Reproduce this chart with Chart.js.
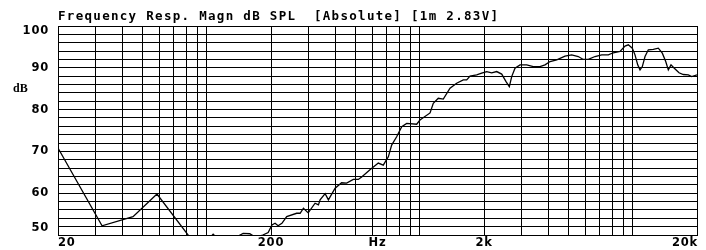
<!DOCTYPE html>
<html>
<head>
<meta charset="utf-8">
<script src="https://cdn.jsdelivr.net/npm/chart.js@4/dist/chart.umd.min.js"></script>
<style>
  html, body { margin: 0; padding: 0; background: #fff; }
  #wrap { width: 706px; height: 250px; }
</style>
</head>
<body>
<div id="wrap"><canvas id="fr" width="706" height="250"></canvas></div>
<script>
const freqHz = [20, 32.2, 45, 58.3, 93, 100, 107, 115, 130, 148, 159, 170, 183, 194, 202, 209, 216, 225, 237,
    264, 274, 284, 299, 322, 334, 340, 359, 372, 400, 429, 453, 487, 514, 533, 583, 638, 673, 711, 737, 778,
    822, 867, 966, 1001, 1020, 1116, 1156, 1220, 1288, 1385, 1488, 1599, 1659, 1719, 1848, 1950, 2059, 2174,
    2294, 2422, 2538, 2630, 2698, 2796, 2952, 3173, 3408, 3663, 3868, 4084, 4390, 4802, 5160, 5542, 5850,
    6177, 6640, 7140, 7668, 8091, 8702, 9184, 9518, 9938, 10232, 10536, 10802, 11074, 11402, 11816, 12472,
    13164, 13746, 14262, 14668, 15100, 15648, 16466, 17250, 18210, 18892, 20000];
const splDb = [70.8, 52.2, 54.4, 59.8, 46.2, 48.5, 50.2, 48.6, 48.8, 50.4, 50.3, 49.4, 50.0, 50.6, 52.4, 52.8, 52.2, 52.8, 54.4,
    55.2, 55.2, 56.4, 55.3, 57.6, 57.2, 58.4, 59.9, 58.4, 61.2, 62.5, 62.4, 63.3, 63.3, 63.9, 65.6, 67.2, 66.7, 68.7, 71.5, 73.5,
    75.9, 76.7, 76.5, 77.5, 77.8, 79.2, 81.5, 82.7, 82.5, 85.1, 86.3, 87.1, 87.1, 88.0, 88.3, 88.7, 89.1, 88.8,
    89.1, 88.5, 86.7, 85.5, 87.9, 89.9, 90.7, 90.7, 90.3, 90.3, 90.7, 91.5, 91.9, 92.8, 93.1, 92.7, 92.0,
    92.0, 92.7, 93.1, 93.1, 93.6, 93.9, 95.2, 95.5, 94.7, 93.1, 90.7, 89.5, 90.3, 92.7, 94.3, 94.4,
    94.7, 93.5, 91.5, 89.5, 90.7, 89.9, 88.8, 88.4, 88.3, 87.9, 88.3];

// axes
const xGridHz = [20, 30, 40, 50, 60, 70, 80, 90, 100, 200, 300, 400, 500, 600, 700, 800, 900, 1000,
    2000, 3000, 4000, 5000, 6000, 7000, 8000, 9000, 10000, 20000];
const xLabelHz = [20, 200, 2000, 20000];
const xLabelText = ['20', '200', '2k', '20k'];
const yLabelDb = [50, 60, 70, 80, 90, 100];
const titleText = 'Frequency Resp. Magn dB SPL  [Absolute] [1m 2.83V]';

const points = freqHz.map((f, i) => ({ x: f, y: splDb[i] }));

// draws title, tick labels and axis units
const labelsPlugin = {
    id: 'labels',
    beforeDraw(chart) {
        const c = chart.ctx;
        c.save();
        c.fillStyle = '#fff';
        c.fillRect(0, 0, chart.width, chart.height);
        c.restore();
    },
    afterDraw(chart) {
        const c = chart.ctx;
        const area = chart.chartArea;
        const xs = chart.scales.x;
        const ys = chart.scales.y;
        c.save();
        c.fillStyle = '#000';

        // title
        c.font = 'bold 12.5px "DejaVu Sans Mono"';
        c.letterSpacing = '1.3px';
        c.textAlign = 'left';
        c.textBaseline = 'alphabetic';
        c.fillText(titleText, area.left, 20);

        // y labels
        c.font = 'bold 11.5px "DejaVu Sans"';
        c.letterSpacing = '0.8px';
        c.textAlign = 'right';
        c.textBaseline = 'middle';
        yLabelDb.forEach(v => {
            let y = ys.getPixelForValue(v);
            y = Math.min(Math.max(y, area.top + 5), area.bottom - 7);
            c.fillText(String(v), 49, y);
        });

        // x labels
        xLabelHz.forEach((f, i) => {
            const x = xs.getPixelForValue(f);
            c.textAlign = i === 0 ? 'left' : (i === xLabelHz.length - 1 ? 'right' : 'center');
            const dx = i === xLabelHz.length - 1 ? 1 : 0;
            c.fillText(xLabelText[i], x + dx, area.bottom + 8);
        });
        c.textAlign = 'center';
        c.fillText('Hz', xs.getPixelForValue(Math.sqrt(200 * 2000)), area.bottom + 8);

        // unit
        c.font = 'bold 12px "Liberation Serif"';
        c.letterSpacing = '0px';
        c.textAlign = 'left';
        c.fillText('dB', 13, ys.getPixelForValue(85));
        c.restore();
    }
};

new Chart(document.getElementById('fr').getContext('2d'), {
    type: 'line',
    data: {
        datasets: [{
            data: points,
            borderColor: '#000',
            borderWidth: 1.3,
            pointRadius: 0,
            tension: 0,
            fill: false
        }]
    },
    options: {
        responsive: false,
        animation: false,
        layout: { padding: { left: 58, top: 26, right: 9, bottom: 15 } },
        plugins: { legend: { display: false }, tooltip: { enabled: false }, title: { display: false } },
        scales: {
            x: {
                type: 'logarithmic',
                min: 20,
                max: 20000,
                afterBuildTicks: axis => { axis.ticks = xGridHz.map(v => ({ value: v })); },
                ticks: { display: false },
                grid: { color: '#000', lineWidth: 1, drawTicks: false },
                border: { color: '#000', width: 1 }
            },
            y: {
                min: 50,
                max: 100,
                ticks: { display: false, stepSize: 2 },
                grid: { color: '#000', lineWidth: 1, drawTicks: false },
                border: { color: '#000', width: 1 }
            }
        }
    },
    plugins: [labelsPlugin]
});
</script>
</body>
</html>
